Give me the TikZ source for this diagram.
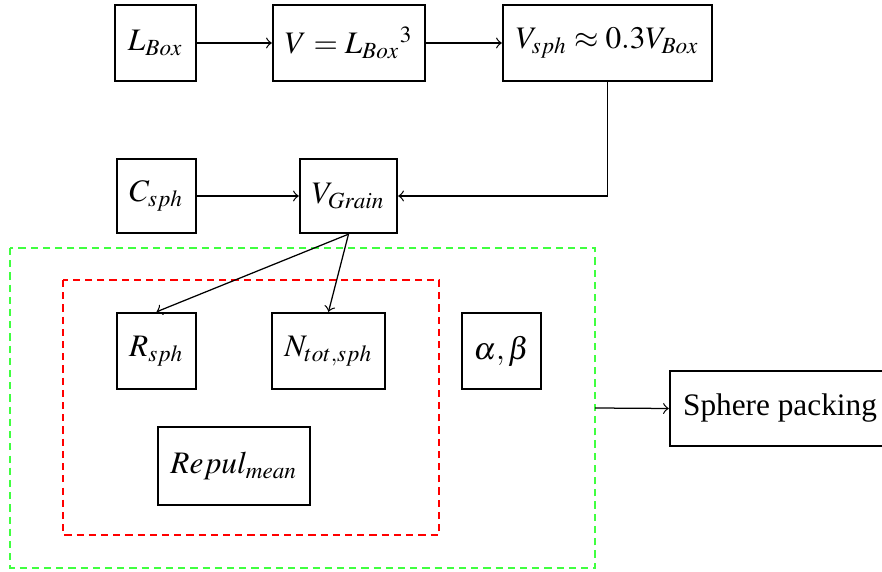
\documentclass[tikz,border=0pt]{standalone}
\usepackage{mathptmx}
\usepackage[no-math]{fontspec}
\setmainfont{Liberation Serif}
\usetikzlibrary{calc}
\tikzset{
  bx/.style 2 args={draw, line width=0.75pt, inner sep=0pt,
    minimum width=#1*0.3195pt, minimum height=#2*0.3195pt},
  link/.style={->, line width=0.4pt},
  grp/.style={line width=0.45pt, dash pattern=on 2.3pt off 1.6pt},
}
\begin{document}
\begin{tikzpicture}[x=0.3195pt, y=-0.3195pt]
\useasboundingbox (0,0) rectangle (882,572);

% parameter groups
\draw[grp, green!75] (10,248) rectangle (595,568);
\draw[grp, red] (63,280) rectangle (439,535);
\coordinate (grpE) at (595,408);

% boxes
\node[bx={81}{76}] (lbox) at (155.5,43) {$L_{Box}$};
\node[bx={152}{76}] (vol) at (349,43) {$V = {L_{Box}}^3$};
\node[bx={209}{76}] (vsph) at (607.5,43) {$V_{sph} \approx 0.3 V_{Box}$};
\node[bx={79}{74}] (csph) at (156.5,196) {$C_{sph}$};
\node[bx={97}{74}] (vgrain) at (348.5,196) {$V_{Grain}$};
\node[bx={79}{76}] (rsph) at (156.5,351) {$R_{sph}$};
\node[bx={113}{76}] (ntot) at (328.5,351) {$N_{tot,sph}$};
\node[bx={79}{76}] (ab) at (501.5,351) {$\alpha,\beta$};
\node[bx={152}{78}] (repul) at (234,466) {$Repul_{mean}$};
\node[bx={220}{75}] (pack) at (780,408.5) {Sphere packing};

% connectors
\draw[link] (lbox) -- (vol);
\draw[link] (vol) -- (vsph);
\draw[link] (vsph.south) |- (vgrain.east);
\draw[link] (csph) -- (vgrain);
\draw[link] (vgrain.south) -- (rsph.north);
\draw[link] (vgrain.south) -- (ntot.north);
\draw[link] (grpE) -- (pack.west);
\end{tikzpicture}
\end{document}
